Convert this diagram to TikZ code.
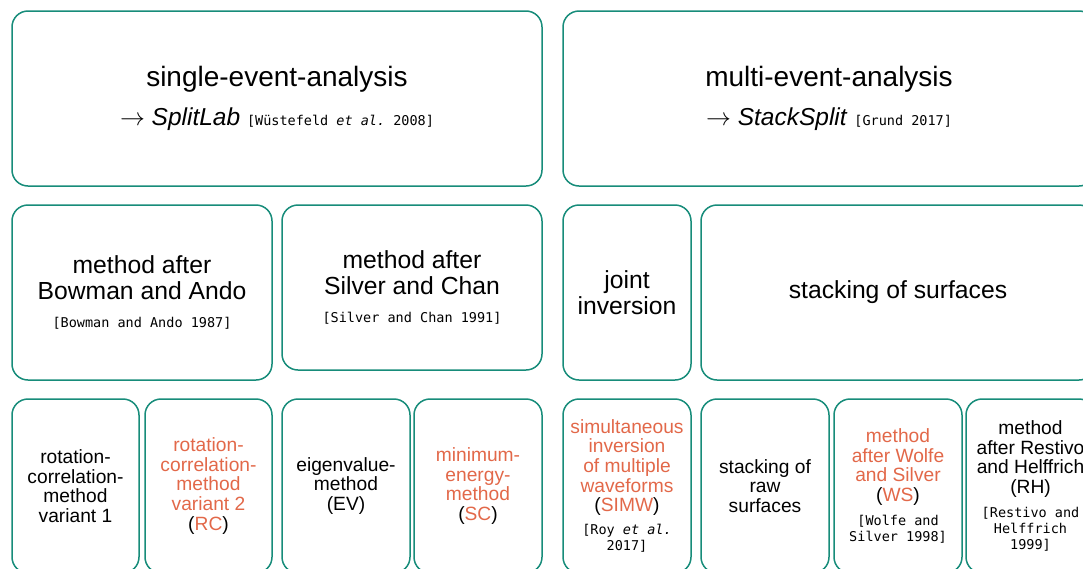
\documentclass[tikz,border=0pt]{standalone}
\usepackage{fontspec}
\setmainfont{Liberation Sans}
\setmonofont{DejaVu Sans Mono}
\definecolor{frame}{RGB}{23,140,122}
\definecolor{accent}{RGB}{226,104,73}
\newcommand\refmono{\ttfamily\fontsize{13.5}{15.8}\selectfont}
\newcommand\hl[1]{\textcolor{accent}{#1}}
\begin{document}
\begin{tikzpicture}[x=1pt,y=-1pt,
  box/.style={draw=frame, line width=1.5pt, rounded corners=16pt, align=center, inner sep=0pt, text=black},
  topbox/.style={box, font=\fontsize{28}{38.5}\selectfont, minimum height=175pt},
  midbox/.style={box, font=\fontsize{24.7}{25.5}\selectfont},
  lowbox/.style={box, font=\fontsize{19.2}{19.6}\selectfont, minimum height=174pt},
]
\useasboundingbox (0,0) rectangle (1083,568);
\clip (0,0) rectangle (1083,568);
% top row
\node[topbox, minimum width=530pt] (sea) at (277,98.5)
  {single-event-analysis\\{\fontsize{24.5}{24.5}\selectfont$\rightarrow$ \textit{SplitLab} {\refmono[Wüstefeld \textit{et al.} 2008]}}};
\node[topbox, minimum width=532pt] (mea) at (829,98.5)
  {multi-event-analysis\\{\fontsize{24.5}{24.5}\selectfont$\rightarrow$ \textit{StackSplit} {\refmono[Grund 2017]}}};
% middle row
\node[midbox, minimum width=260pt, minimum height=175pt] (ba) at (142,292.5)
  {method after\\Bowman and Ando\\[2.5pt]{\refmono[Bowman and Ando 1987]}};
\node[midbox, minimum width=260pt, minimum height=165pt] (sch) at (412,287.5)
  {method after\\Silver and Chan\\[2.5pt]{\refmono[Silver and Chan 1991]}};
\node[midbox, minimum width=128pt, minimum height=175pt] (ji) at (627,292.5)
  {joint\\inversion};
\node[midbox, minimum width=394pt, minimum height=175pt] (ss) at (898,292.5)
  {stacking of surfaces};
% bottom row
\node[lowbox, minimum width=127pt] (rc1) at (75.5,486)
  {rotation-\\correlation-\\method\\variant 1};
\node[lowbox, minimum width=127pt] (rc2) at (208.5,486)
  {\hl{rotation-}\\\hl{correlation-}\\\hl{method}\\\hl{variant 2}\\(\hl{RC})};
\node[lowbox, minimum width=128pt] (ev) at (346,486)
  {eigenvalue-\\method\\(EV)};
\node[lowbox, minimum width=128pt] (me) at (478,486)
  {\hl{minimum-}\\\hl{energy-}\\\hl{method}\\(\hl{SC})};
\node[lowbox, minimum width=128pt] (simw) at (627,486)
  {\hl{simultaneous}\\\hl{inversion}\\\hl{of multiple}\\\hl{waveforms}\\(\hl{SIMW})\\[3.6pt]{\refmono[Roy \textit{et al.}}\\[-3.8pt]{\refmono 2017]}};
\node[lowbox, minimum width=128pt] (raw) at (765,486)
  {stacking of\\raw\\surfaces};
\node[lowbox, minimum width=128pt] (ws) at (898,486)
  {\hl{method}\\\hl{after Wolfe}\\\hl{and Silver}\\(\hl{WS})\\[4.6pt]{\refmono[Wolfe and}\\[-3.8pt]{\refmono Silver 1998]}};
\node[lowbox, minimum width=129pt] (rh) at (1030.5,486)
  {method\\after Restivo\\and Helffrich\\(RH)\\[4.6pt]{\refmono[Restivo and}\\[-3.8pt]{\refmono Helffrich}\\[-3.8pt]{\refmono 1999]}};
\end{tikzpicture}
\end{document}
